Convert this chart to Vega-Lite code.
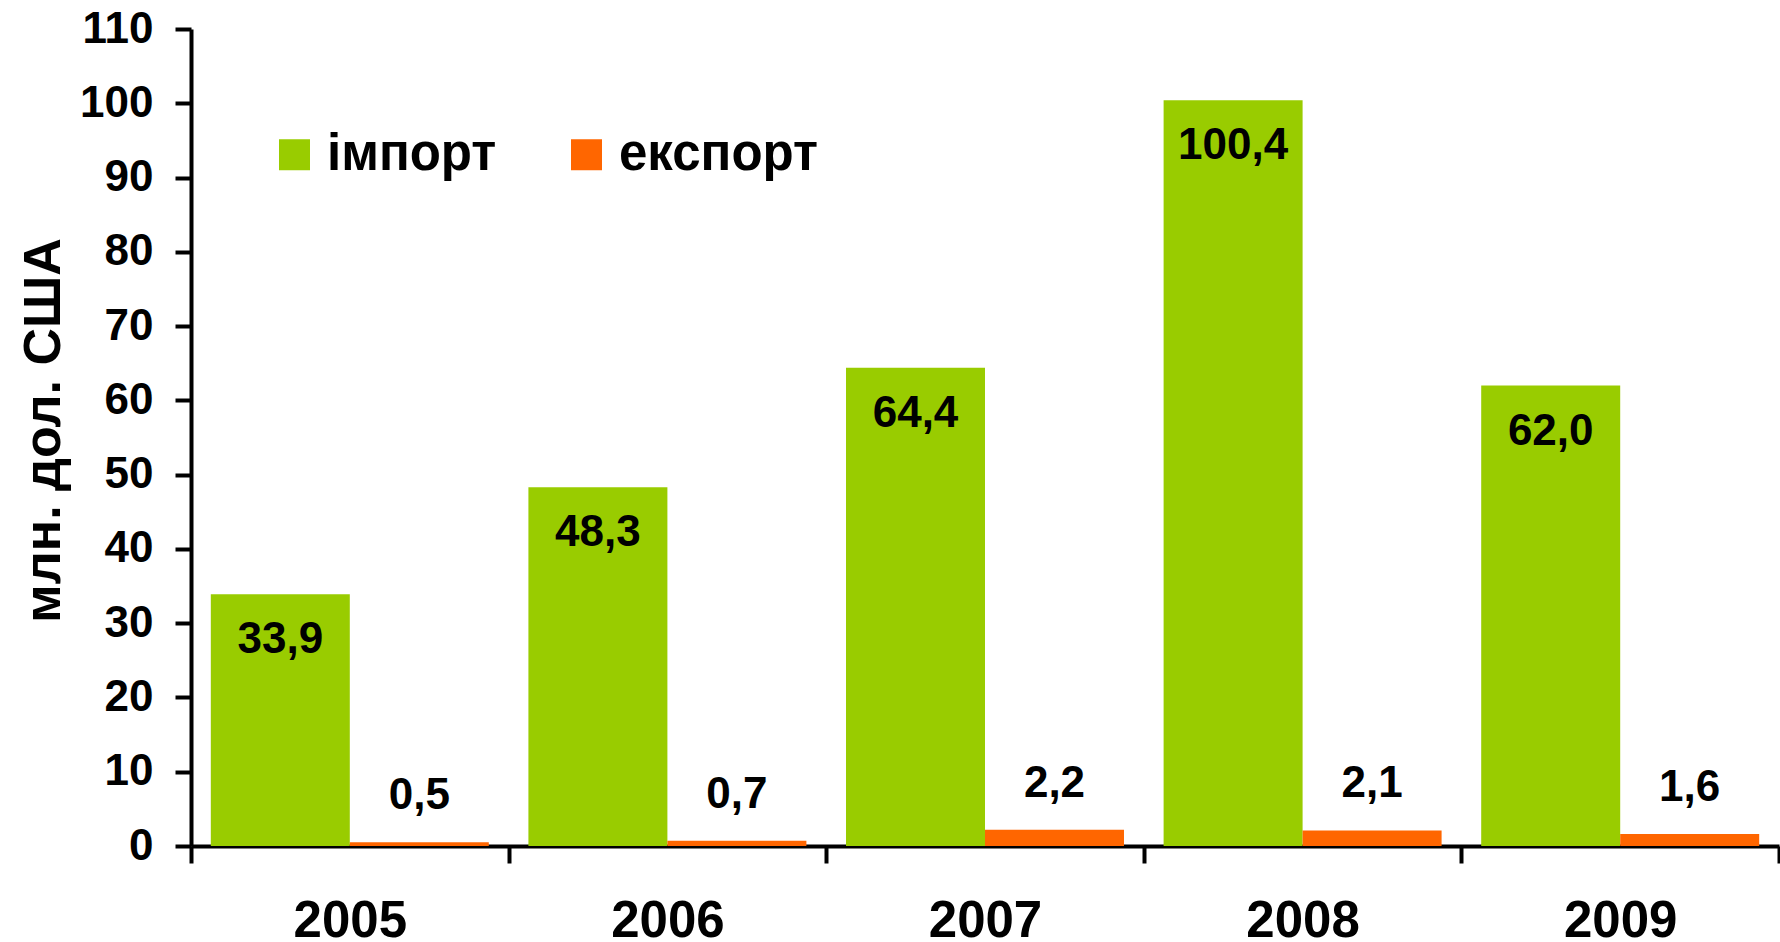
{
  "$schema": "https://vega.github.io/schema/vega-lite/v6.json",
  "autosize": {"type": "none"},
  "width": 1588,
  "height": 817,
  "padding": {"left": 191, "top": 29, "right": 1, "bottom": 96},
  "background": "white",
  "config": {
    "view": {"stroke": null},
    "font": "Liberation Sans",
    "locale": {"number": {"decimal": ",", "thousands": " ", "grouping": [3], "currency": ["", ""]}}
  },
  "data": {
    "values": [
      {"year": "2005", "series": "імпорт", "value": 33.9},
      {"year": "2005", "series": "експорт", "value": 0.5},
      {"year": "2006", "series": "імпорт", "value": 48.3},
      {"year": "2006", "series": "експорт", "value": 0.7},
      {"year": "2007", "series": "імпорт", "value": 64.4},
      {"year": "2007", "series": "експорт", "value": 2.2},
      {"year": "2008", "series": "імпорт", "value": 100.4},
      {"year": "2008", "series": "експорт", "value": 2.1},
      {"year": "2009", "series": "імпорт", "value": 62.0},
      {"year": "2009", "series": "експорт", "value": 1.6}
    ]
  },
  "encoding": {
    "x": {
      "field": "year", "type": "nominal",
      "scale": {"paddingInner": 0, "paddingOuter": 0},
      "axis": {
        "title": null, "labelAngle": 0,
        "labelFont": "Liberation Sans", "labelFontSize": 51, "labelFontWeight": "bold", "labelColor": "black",
        "labelPadding": 33,
        "domainColor": "black", "domainWidth": 4,
        "tickBand": "extent", "tickColor": "black", "tickWidth": 4, "tickSize": 17,
        "grid": false
      }
    },
    "xOffset": {"field": "series", "type": "nominal", "sort": ["імпорт", "експорт"], "scale": {"paddingInner": 0, "paddingOuter": 0.1425}},
    "y": {
      "field": "value", "type": "quantitative",
      "scale": {"domain": [0, 110], "nice": false},
      "axis": {
        "title": "млн. дол. США",
        "titleFont": "Liberation Sans", "titleFontSize": 52, "titleFontWeight": "bold", "titleColor": "black",
        "titleAngle": 270, "titleBaseline": "alphabetic", "titleAlign": "center",
        "titleX": -132, "titleY": 401,
        "values": [0, 10, 20, 30, 40, 50, 60, 70, 80, 90, 100, 110],
        "labelFont": "Liberation Sans", "labelFontSize": 44, "labelFontWeight": "bold", "labelColor": "black",
        "labelPadding": 22,
        "domainColor": "black", "domainWidth": 4,
        "tickColor": "black", "tickWidth": 4, "tickSize": 16,
        "grid": false
      }
    }
  },
  "layer": [
    {
      "mark": {"type": "bar"},
      "encoding": {
        "color": {
          "field": "series", "type": "nominal",
          "scale": {"domain": ["імпорт", "експорт"], "range": ["#99CC00", "#FF6600"]},
          "legend": {
            "title": null, "orient": "none", "direction": "horizontal",
            "legendX": 78, "legendY": 100, "padding": 0,
            "symbolType": "square", "symbolSize": 961, "symbolStrokeWidth": 0,
            "labelFont": "Liberation Sans", "labelFontSize": 51, "labelFontWeight": "bold", "labelColor": "black",
            "labelOffset": 7, "columnPadding": 64, "labelLimit": 500
          }
        }
      }
    },
    {
      "transform": [{"filter": "datum.series === 'імпорт'"}],
      "mark": {"type": "text", "dy": 46, "baseline": "middle", "align": "center", "font": "Liberation Sans", "fontSize": 44, "fontWeight": "bold", "color": "black"},
      "encoding": {"text": {"field": "value", "type": "quantitative", "format": ".1f"}}
    },
    {
      "transform": [{"filter": "datum.series === 'експорт'"}],
      "mark": {"type": "text", "dy": -46, "baseline": "middle", "align": "center", "font": "Liberation Sans", "fontSize": 44, "fontWeight": "bold", "color": "black"},
      "encoding": {"text": {"field": "value", "type": "quantitative", "format": ".1f"}}
    }
  ]
}
